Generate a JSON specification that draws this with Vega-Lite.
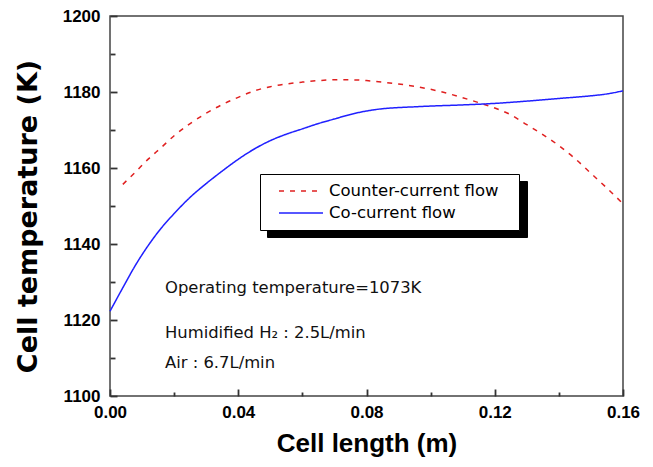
{
  "$schema": "https://vega.github.io/schema/vega-lite/v6.json",
  "width": 513,
  "height": 380,
  "autosize": {"type": "none"},
  "padding": {"left": 110, "top": 16, "right": 30, "bottom": 71},
  "background": "white",
  "config": {
    "view": {"stroke": "#444", "strokeWidth": 1.5},
    "axis": {
      "grid": false,
      "domain": false,
      "ticks": true,
      "tickColor": "#333",
      "tickWidth": 1.8,
      "labelFont": "Liberation Sans",
      "labelFontWeight": "bold",
      "labelFontSize": 17,
      "labelColor": "black",
      "titleColor": "black"
    }
  },
  "resolve": {"axis": {"x": "independent", "y": "independent"}},
  "datasets": {
    "curves": [
      {"series": "Counter-current flow", "x": 0.004, "T": 1155.7},
      {"series": "Counter-current flow", "x": 0.008, "T": 1159.0},
      {"series": "Counter-current flow", "x": 0.012, "T": 1162.4},
      {"series": "Counter-current flow", "x": 0.016, "T": 1165.4},
      {"series": "Counter-current flow", "x": 0.020, "T": 1168.5},
      {"series": "Counter-current flow", "x": 0.025, "T": 1171.7},
      {"series": "Counter-current flow", "x": 0.030, "T": 1174.4},
      {"series": "Counter-current flow", "x": 0.035, "T": 1176.7},
      {"series": "Counter-current flow", "x": 0.040, "T": 1178.6},
      {"series": "Counter-current flow", "x": 0.045, "T": 1180.3},
      {"series": "Counter-current flow", "x": 0.050, "T": 1181.4},
      {"series": "Counter-current flow", "x": 0.055, "T": 1182.1},
      {"series": "Counter-current flow", "x": 0.060, "T": 1182.6},
      {"series": "Counter-current flow", "x": 0.065, "T": 1183.0},
      {"series": "Counter-current flow", "x": 0.070, "T": 1183.2},
      {"series": "Counter-current flow", "x": 0.075, "T": 1183.2},
      {"series": "Counter-current flow", "x": 0.080, "T": 1183.0},
      {"series": "Counter-current flow", "x": 0.085, "T": 1182.6},
      {"series": "Counter-current flow", "x": 0.090, "T": 1182.1},
      {"series": "Counter-current flow", "x": 0.095, "T": 1181.5},
      {"series": "Counter-current flow", "x": 0.100, "T": 1180.7},
      {"series": "Counter-current flow", "x": 0.105, "T": 1179.7},
      {"series": "Counter-current flow", "x": 0.110, "T": 1178.5},
      {"series": "Counter-current flow", "x": 0.115, "T": 1177.2},
      {"series": "Counter-current flow", "x": 0.120, "T": 1175.8},
      {"series": "Counter-current flow", "x": 0.125, "T": 1174.0},
      {"series": "Counter-current flow", "x": 0.130, "T": 1171.4},
      {"series": "Counter-current flow", "x": 0.135, "T": 1168.8},
      {"series": "Counter-current flow", "x": 0.140, "T": 1165.9},
      {"series": "Counter-current flow", "x": 0.145, "T": 1162.5},
      {"series": "Counter-current flow", "x": 0.150, "T": 1158.6},
      {"series": "Counter-current flow", "x": 0.155, "T": 1154.7},
      {"series": "Counter-current flow", "x": 0.160, "T": 1150.6},
      {"series": "Co-current flow", "x": 0.000, "T": 1122.3},
      {"series": "Co-current flow", "x": 0.004, "T": 1128.5},
      {"series": "Co-current flow", "x": 0.008, "T": 1134.5},
      {"series": "Co-current flow", "x": 0.012, "T": 1139.7},
      {"series": "Co-current flow", "x": 0.016, "T": 1144.2},
      {"series": "Co-current flow", "x": 0.020, "T": 1148.0},
      {"series": "Co-current flow", "x": 0.025, "T": 1152.3},
      {"series": "Co-current flow", "x": 0.030, "T": 1155.9},
      {"series": "Co-current flow", "x": 0.035, "T": 1159.2},
      {"series": "Co-current flow", "x": 0.040, "T": 1162.3},
      {"series": "Co-current flow", "x": 0.045, "T": 1165.0},
      {"series": "Co-current flow", "x": 0.050, "T": 1167.2},
      {"series": "Co-current flow", "x": 0.055, "T": 1168.9},
      {"series": "Co-current flow", "x": 0.060, "T": 1170.3},
      {"series": "Co-current flow", "x": 0.065, "T": 1171.7},
      {"series": "Co-current flow", "x": 0.070, "T": 1172.9},
      {"series": "Co-current flow", "x": 0.075, "T": 1174.1},
      {"series": "Co-current flow", "x": 0.080, "T": 1175.0},
      {"series": "Co-current flow", "x": 0.085, "T": 1175.6},
      {"series": "Co-current flow", "x": 0.090, "T": 1175.9},
      {"series": "Co-current flow", "x": 0.095, "T": 1176.1},
      {"series": "Co-current flow", "x": 0.100, "T": 1176.3},
      {"series": "Co-current flow", "x": 0.110, "T": 1176.6},
      {"series": "Co-current flow", "x": 0.120, "T": 1177.0},
      {"series": "Co-current flow", "x": 0.130, "T": 1177.6},
      {"series": "Co-current flow", "x": 0.140, "T": 1178.3},
      {"series": "Co-current flow", "x": 0.150, "T": 1179.0},
      {"series": "Co-current flow", "x": 0.155, "T": 1179.5},
      {"series": "Co-current flow", "x": 0.160, "T": 1180.3}
    ],
    "notes": [
      {"x": 0.01715, "y": 1127.1, "text": "Operating temperature=1073K"},
      {"x": 0.01715, "y": 1115.2, "text": "Humidified H₂ : 2.5L/min"},
      {"x": 0.01715, "y": 1107.3, "text": "Air : 6.7L/min"}
    ]
  },
  "layer": [
    {
      "data": {"name": "curves"},
      "mark": {"type": "line", "strokeWidth": 1.5, "interpolate": "monotone"},
      "encoding": {
        "x": {
          "field": "x", "type": "quantitative",
          "scale": {"domain": [0, 0.16], "nice": false, "zero": false},
          "axis": {
            "orient": "bottom",
            "offset": -7,
            "values": [0, 0.04, 0.08, 0.12, 0.16],
            "format": ".2f",
            "tickSize": 7,
            "labelPadding": 8,
            "labelFlush": false,
            "title": "Cell length (m)",
            "titleFont": "Liberation Sans",
            "titleFontWeight": "bold",
            "titleFontSize": 26,
            "titleBaseline": "alphabetic",
            "titleY": 62
          }
        },
        "y": {
          "field": "T", "type": "quantitative",
          "scale": {"domain": [1100, 1200], "nice": false, "zero": false},
          "axis": {
            "orient": "left",
            "offset": -7,
            "values": [1100, 1120, 1140, 1160, 1180, 1200],
            "format": "d",
            "tickSize": 7,
            "labelPadding": 10,
            "labelFlush": false,
            "title": "Cell temperature (K)",
            "titleFont": "DejaVu Sans",
            "titleFontWeight": "bold",
            "titleFontSize": 27,
            "titleAngle": -90,
            "titleBaseline": "bottom",
            "titleAlign": "center",
            "titleX": -75,
            "titleY": 200
          }
        },
        "color": {
          "field": "series", "type": "nominal",
          "scale": {"domain": ["Counter-current flow", "Co-current flow"], "range": ["#e02020", "#2020ff"]},
          "legend": {
            "orient": "none", "legendX": 150, "legendY": 158,
            "title": " ", "titleOrient": "right", "titlePadding": 14, "titleFontSize": 16,
            "strokeColor": "black", "fillColor": "white", "padding": 6,
            "symbolType": "stroke", "symbolSize": 1936, "symbolStrokeWidth": 1.5,
            "symbolOffset": 12, "labelOffset": 5,
            "labelFont": "DejaVu Sans", "labelFontSize": 16.5, "labelColor": "black", "labelLimit": 400,
            "clipHeight": 22, "rowPadding": 0, "zindex": 2
          }
        },
        "strokeDash": {
          "field": "series", "type": "nominal",
          "scale": {"domain": ["Counter-current flow", "Co-current flow"], "range": [[5, 6], [1, 0]]}
        },
        "opacity": {
          "field": "series", "type": "nominal",
          "scale": {"range": [1, 1]},
          "legend": {
            "orient": "none", "legendX": 157, "legendY": 165,
            "title": null,
            "strokeColor": "black", "fillColor": "black", "padding": 6,
            "symbolType": "stroke", "symbolSize": 55225, "symbolStrokeWidth": 1,
            "symbolOffset": 12, "labelOffset": 0, "symbolStrokeColor": "black",
            "labelExpr": "''",
            "clipHeight": 22, "rowPadding": 0, "zindex": 1
          }
        }
      }
    },
    {
      "data": {"name": "notes"},
      "mark": {"type": "text", "align": "left", "baseline": "alphabetic", "font": "DejaVu Sans", "fontSize": 16.4, "color": "#111"},
      "encoding": {
        "x": {
          "field": "x", "type": "quantitative",
          "axis": {
            "orient": "bottom",
            "offset": -4,
            "values": [0.02, 0.06, 0.1, 0.14],
            "tickSize": 4,
            "labels": false,
            "title": null
          }
        },
        "y": {
          "field": "y", "type": "quantitative",
          "axis": {
            "orient": "left",
            "offset": -5,
            "values": [1110, 1130, 1150, 1170, 1190],
            "tickSize": 5,
            "labels": false,
            "title": null
          }
        },
        "text": {"field": "text"}
      }
    }
  ]
}
